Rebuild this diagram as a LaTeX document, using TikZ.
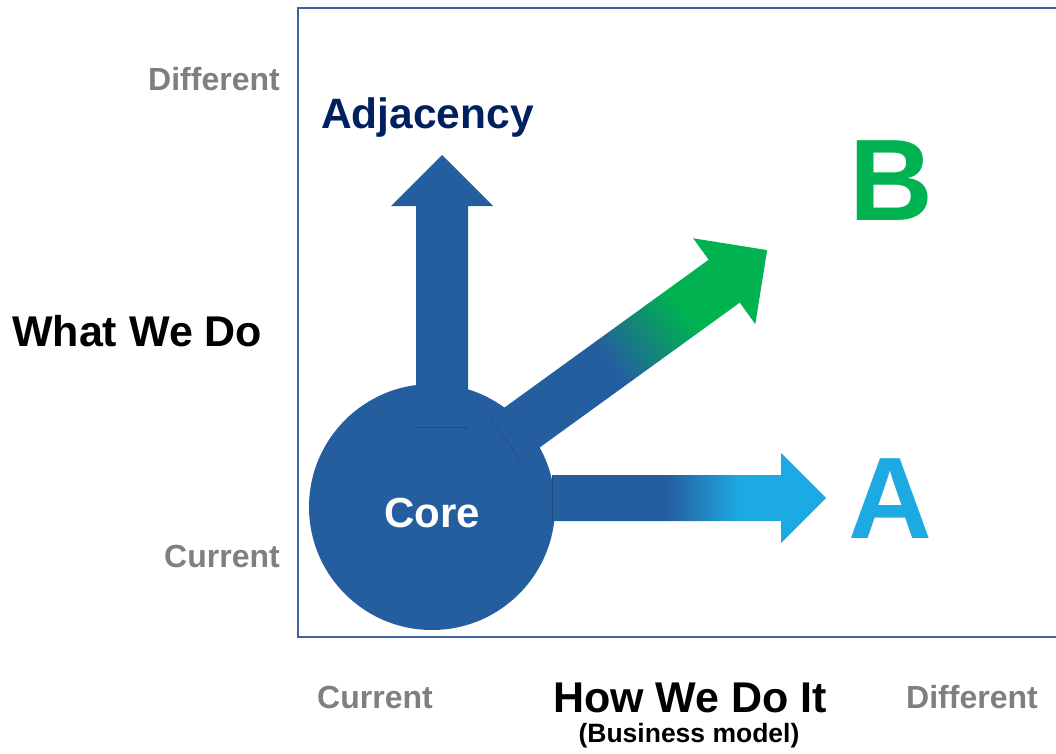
\documentclass[tikz,border=0pt]{standalone}
\usepackage{fontspec}
\setmainfont{Liberation Sans}
\definecolor{cblue}{RGB}{37,94,159}
\definecolor{clight}{RGB}{29,169,225}
\definecolor{cgreen}{RGB}{0,178,80}
\definecolor{cnavy}{RGB}{0,32,96}
\definecolor{cgray}{RGB}{127,127,127}
\definecolor{cframe}{RGB}{59,100,160}
\pgfdeclarehorizontalshading{ashade}{100bp}{color(0bp)=(cblue); color(46bp)=(cblue); color(59bp)=(clight); color(100bp)=(clight)}
\pgfdeclarehorizontalshading{bshade}{100bp}{color(0bp)=(cblue); color(45bp)=(cblue); color(59bp)=(cgreen); color(100bp)=(cgreen)}
\begin{document}
\begin{tikzpicture}[x=1pt,y=-1pt,
  txt/.style={inner sep=0pt, font=\bfseries\fontsize{#1}{#1}\selectfont},
  axislbl/.style={txt=32, text=cgray},
  baseedge/.style={draw=cblue!80!black, line width=0.5pt}]
\useasboundingbox (0,0) rectangle (1056,753);
% frame
\draw[cframe, line width=2.4pt] (1062,8) -- (298,8) -- (298,637) -- (1062,637);
% core circle
\node[circle, fill=cblue, minimum size=246pt, inner sep=0pt] (core) at (432,507) {};
% up arrow (Adjacency)
\coordinate (upbase) at (442,427);
\fill[cblue] (416,427) -- (416,206) -- (391,206) -- (442,155) -- (493,206) -- (468,206) -- (468,427) -- cycle;
\draw[baseedge] (416,427) -- (468,427);
% right arrow (A)
\coordinate (abase) at (552,498);
\shade[shading=ashade] (552,475) -- (781,475) -- (781,453) -- (826,498) -- (781,543) -- (781,521) -- (552,521) -- cycle;
\draw[baseedge] (552,475) -- (552,521);
% diagonal arrow (B)
\coordinate (bbase) at (505.5,439.5);
\begin{scope}[transform canvas={shift={(505.5,439.5)},rotate=35.9}]
  \shade[shading=bshade] (0,-26.5) -- (270,-26.5) -- (270,-53) -- (323,0) -- (270,53) -- (270,26.5) -- (0,26.5) -- cycle;
  \draw[baseedge] (0,-26.5) -- (0,26.5);
\end{scope}
% texts
\node[txt=42, text=white, anchor=base] (coretxt) at (432,527) {Core};
\node[txt=42.5, text=cnavy, anchor=base west] (adj) at (321,128) {Adjacency};
\node[txt=116, text=cgreen, anchor=base] (B) at (891,220) {B};
\node[txt=116, text=clight, anchor=base] (A) at (890,538) {A};
\node[txt=43, text=black, anchor=base west] (what) at (12,346) {What We Do};
\node[axislbl, anchor=base east] (difL) at (280,90) {Different};
\node[axislbl, anchor=base east] (curL) at (280,567) {Current};
\node[axislbl, anchor=base] (curB) at (375,708) {Current};
\node[axislbl, anchor=base] (difB) at (972,708) {Different};
\node[txt=43, text=black, anchor=base] (how) at (690,712) {How We Do It};
\node[txt=26.5, text=black, anchor=base] (bm) at (689,742) {(Business model)};
\end{tikzpicture}
\end{document}
